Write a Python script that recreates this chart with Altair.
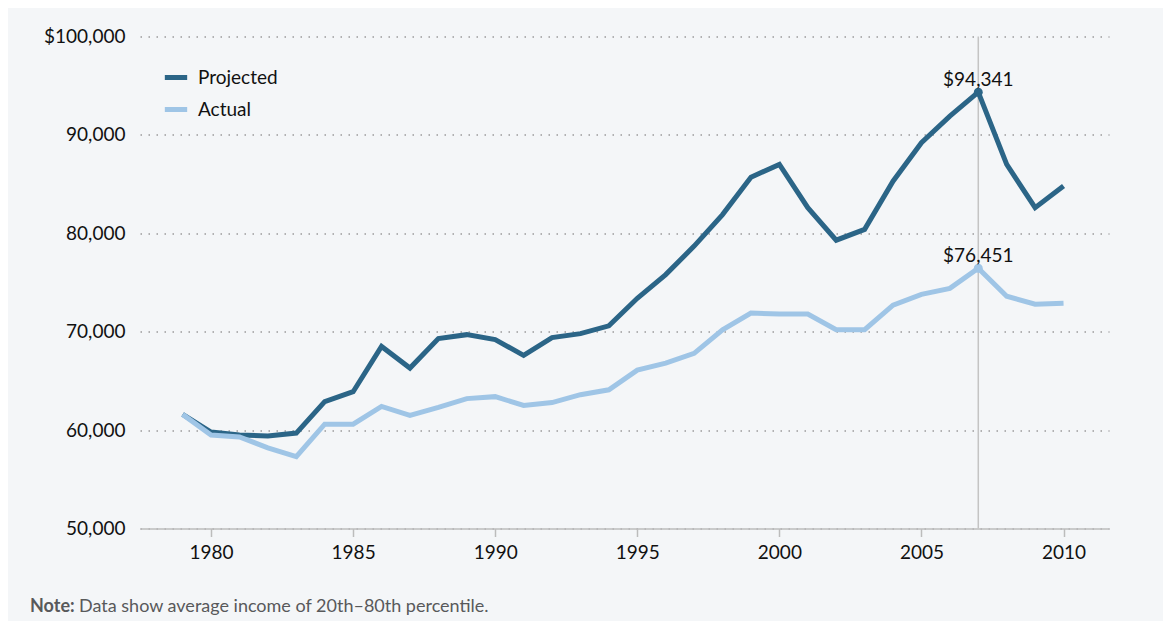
import altair as alt
import pandas as pd

years = list(range(1979, 2011))
projected = [61600, 59800, 59500, 59400, 59700, 62900, 63900, 68500, 66300, 69300,
             69700, 69200, 67600, 69400, 69800, 70600, 73400, 75800, 78700, 81900,
             85700, 87000, 82600, 79300, 80400, 85300, 89200, 91900, 94341, 87000,
             82600, 84800]
actual = [61600, 59500, 59300, 58200, 57300, 60600, 60600, 62400, 61500, 62300,
          63200, 63400, 62500, 62800, 63600, 64100, 66100, 66800, 67800, 70200,
          71900, 71800, 71800, 70200, 70200, 72700, 73800, 74400, 76451, 73600,
          72800, 72900]
series_names = ["Projected", "Actual"]
colors = ["#2b6587", "#9fc5e6"]
x_ticks = [1980, 1985, 1990, 1995, 2000, 2005, 2010]
y_ticks = [50000, 60000, 70000, 80000, 90000, 100000]
highlight_year = 2007
peak_labels = ["$94,341", "$76,451"]
note_bold = "Note:"
note_text = "Data show average income of 20th\u201380th percentile."

FONT = "Lato"
W, H = 969, 492

rows = []
for y, p, a in zip(years, projected, actual):
    rows.append({"year": y, "value": p, "series": "Projected"})
    rows.append({"year": y, "value": a, "series": "Actual"})
df = pd.DataFrame(rows)

peaks = pd.DataFrame({
    "year": [highlight_year, highlight_year],
    "value": [projected[years.index(highlight_year)], actual[years.index(highlight_year)]],
    "series": series_names,
    "label": peak_labels,
})

x_scale = alt.Scale(domain=[1977.5, 2011.6], nice=False, zero=False)
y_scale = alt.Scale(domain=[50000, 100000], nice=False, zero=False)
color_scale = alt.Scale(domain=series_names, range=colors)

x_enc = alt.X("year:Q", scale=x_scale, axis=alt.Axis(
    values=x_ticks, format="d", title=None, grid=False,
    domainColor="#bcbcbc", domainWidth=1.5, tickColor="#bcbcbc", tickWidth=1.5,
    tickSize=8, labelFontSize=19, labelColor="#111111", labelPadding=7, labelFont=FONT))
y_enc = alt.Y("value:Q", scale=y_scale, axis=alt.Axis(
    values=y_ticks, title=None, domain=False, ticks=False,
    grid=True, gridColor="#9a9a9a", gridDash=[1.5, 6.5], gridWidth=1.5,
    labelFontSize=19, labelColor="#111111", labelPadding=15, labelFont=FONT,
    labelExpr="datum.value == 100000 ? '$100,000' : format(datum.value, ',')"))

vrule = alt.Chart(pd.DataFrame({"year": [highlight_year]})).mark_rule(
    color="#c4c4c4", strokeWidth=1.5).encode(
    x=alt.X("year:Q", scale=x_scale),
    y=alt.value(0), y2=alt.value(H))

lines = alt.Chart(df).mark_line(strokeWidth=5, strokeJoin="miter").encode(
    x=x_enc, y=y_enc,
    color=alt.Color("series:N", scale=color_scale, sort=series_names,
                    legend=alt.Legend(title=None, orient="none", legendX=22, legendY=27,
                                      symbolType="stroke", symbolStrokeWidth=5,
                                      symbolSize=500, labelFontSize=19, labelFont=FONT,
                                      labelColor="#111111", rowPadding=8,
                                      labelOffset=8)),
    detail="series:N",
)

pts = alt.Chart(peaks).mark_circle(size=80, opacity=1).encode(
    x=alt.X("year:Q", scale=x_scale), y=alt.Y("value:Q", scale=y_scale),
    color=alt.Color("series:N", scale=color_scale, legend=None))

labels = alt.Chart(peaks).mark_text(
    baseline="bottom", dy=-2, fontSize=19, font=FONT, color="#111111").encode(
    x=alt.X("year:Q", scale=x_scale), y=alt.Y("value:Q", scale=y_scale),
    text="label:N")

note1 = alt.Chart(pd.DataFrame({"t": [note_bold]})).mark_text(
    align="left", baseline="middle", fontSize=18, font=FONT, fontWeight="bold",
    color="#58595b").encode(x=alt.value(-110), y=alt.value(570.5), text="t:N")
note2 = alt.Chart(pd.DataFrame({"t": [note_text]})).mark_text(
    align="left", baseline="middle", fontSize=18, font=FONT,
    color="#58595b").encode(x=alt.value(-61), y=alt.value(570.5), text="t:N")

chart = alt.layer(vrule, lines, pts, labels, note1, note2).properties(
    width=W, height=H,
    autosize=alt.AutoSizeParams(type="none"),
    padding={"left": 132, "top": 28.5, "right": 54, "bottom": 92},
    background="#f4f6f8",
).configure_view(stroke=None)

chart.save("out.html", embed_options={"renderer": "svg", "actions": False})
